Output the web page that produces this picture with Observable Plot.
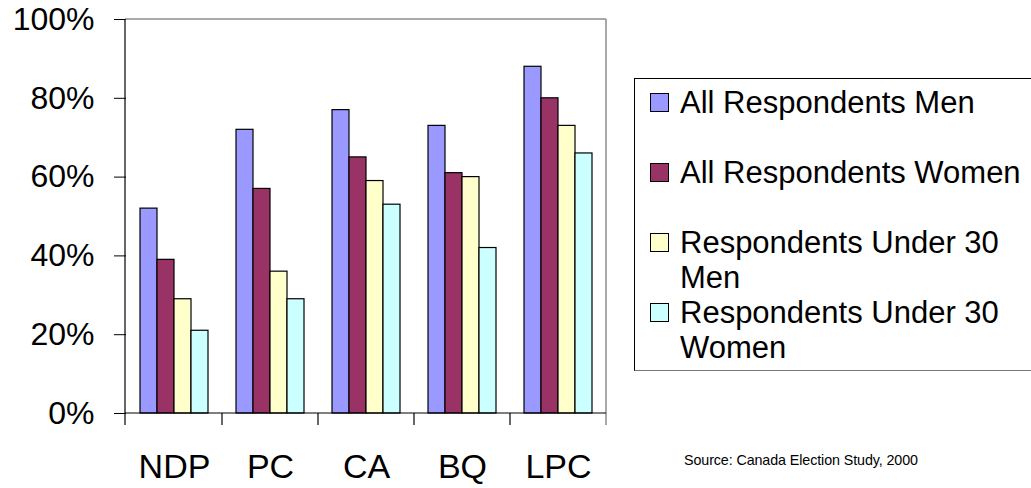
<!DOCTYPE html>
<html>
<head>
<meta charset="utf-8">
<script src="https://cdn.jsdelivr.net/npm/d3@7"></script>
<script src="https://cdn.jsdelivr.net/npm/@observablehq/plot@0.6"></script>
<style>
  html, body { margin: 0; padding: 0; background: #fff; overflow: hidden; }
  body { width: 1031px; height: 488px; position: relative; font-family: "Liberation Sans", Arial, sans-serif; }
  #chart { position: absolute; left: 0; top: 0; }
  #legend { position: absolute; left: 634px; top: 78px; width: 420px; height: 293px;
    border-left: 1px solid #000; border-top: 1px solid #000; border-bottom: 1px solid #777; box-sizing: border-box; }
  .item { position: absolute; left: 0; width: 400px; }
  .sw { position: absolute; left: 15px; top: 8px; width: 19px; height: 19px; border: 1px solid #000; box-sizing: border-box; }
  .lab { position: absolute; left: 45px; width: 350px; font-size: 31px; line-height: 35px; color: #000; }
  #source { position: absolute; left: 684px; top: 452px; font-size: 14.3px; letter-spacing: -0.1px; color: #000; white-space: nowrap; }
</style>
</head>
<body>
<div id="chart"></div>
<div id="legend"></div>
<div id="source"></div>
<script>
const parties = ["NDP", "PC", "CA", "BQ", "LPC"];
const series = ["All Respondents Men", "All Respondents Women", "Respondents Under 30 Men", "Respondents Under 30 Women"];
const colors = ["#9999FF", "#993366", "#FFFFCC", "#CCFFFF"];
const allMen = [52, 72, 77, 73, 88];
const allWomen = [39, 57, 65, 61, 80];
const u30Men = [29, 36, 59, 60, 73];
const u30Women = [21, 29, 53, 42, 66];
const yTicks = [0, 20, 40, 60, 80, 100];
const sourceText = "Source: Canada Election Study, 2000";

const valuesBySeries = [allMen, allWomen, u30Men, u30Women];
const data = [];
parties.forEach((p, i) => {
  series.forEach((s, j) => data.push({party: p, series: s, value: valuesBySeries[j][i]}));
});

const plot = Plot.plot({
  width: 1031,
  height: 488,
  marginLeft: 125,
  marginRight: 425,
  marginTop: 19,
  marginBottom: 75,
  style: {fontFamily: '"Liberation Sans", Arial, sans-serif', color: "#000", background: "transparent"},
  fx: {domain: parties, padding: 0, label: null},
  x: {domain: series, paddingInner: 0, paddingOuter: 0.75, axis: null},
  y: {domain: [0, 100], label: null},
  color: {domain: series, range: colors},
  marks: [
    Plot.barY(data, {fx: "party", x: "series", y: "value", fill: "series", stroke: "#000", strokeWidth: 1.2}),
    Plot.axisY({ticks: yTicks, tickFormat: d => d + "%", tickSize: 12, tickPadding: 20, fontSize: 32, stroke: "#000", label: null}),
    Plot.axisFx({anchor: "bottom", tickSize: 0, tickPadding: 40, fontSize: 34, label: null})
  ]
});
document.getElementById("chart").appendChild(plot);

// frame lines and category boundary ticks, positioned through the plot's own scales
const fx = plot.scale("fx"), y = plot.scale("y");
const svg = d3.select(plot);
const x0 = fx.range[0], x1 = fx.range[1];
const yTop = y.apply(100), yBot = y.apply(0);
const g = svg.append("g");
g.append("line").attr("x1", x0).attr("x2", x1).attr("y1", yTop).attr("y2", yTop).attr("stroke", "#8c8c8c").attr("stroke-width", 1.5);
g.append("line").attr("x1", x1).attr("x2", x1).attr("y1", yTop).attr("y2", yBot + 12).attr("stroke", "#8c8c8c").attr("stroke-width", 1.5);
g.append("line").attr("x1", x0).attr("x2", x0).attr("y1", yTop).attr("y2", yBot + 12).attr("stroke", "#000").attr("stroke-width", 1.2);
g.append("line").attr("x1", x0).attr("x2", x1).attr("y1", yBot).attr("y2", yBot).attr("stroke", "#000").attr("stroke-width", 1.2);
parties.slice(1).forEach(p => {
  const bx = fx.apply(p);
  g.append("line").attr("x1", bx).attr("x2", bx).attr("y1", yBot).attr("y2", yBot + 12).attr("stroke", "#000").attr("stroke-width", 1.2);
});

// legend
const legend = document.getElementById("legend");
const tops = [6, 76, 146, 216];
series.forEach((s, i) => {
  const item = document.createElement("div");
  item.className = "item";
  item.style.top = tops[i] + "px";
  const sw = document.createElement("div");
  sw.className = "sw";
  sw.style.background = colors[i];
  const lab = document.createElement("div");
  lab.className = "lab";
  lab.textContent = s;
  item.appendChild(sw);
  item.appendChild(lab);
  legend.appendChild(item);
});
document.getElementById("source").textContent = sourceText;
</script>
</body>
</html>
